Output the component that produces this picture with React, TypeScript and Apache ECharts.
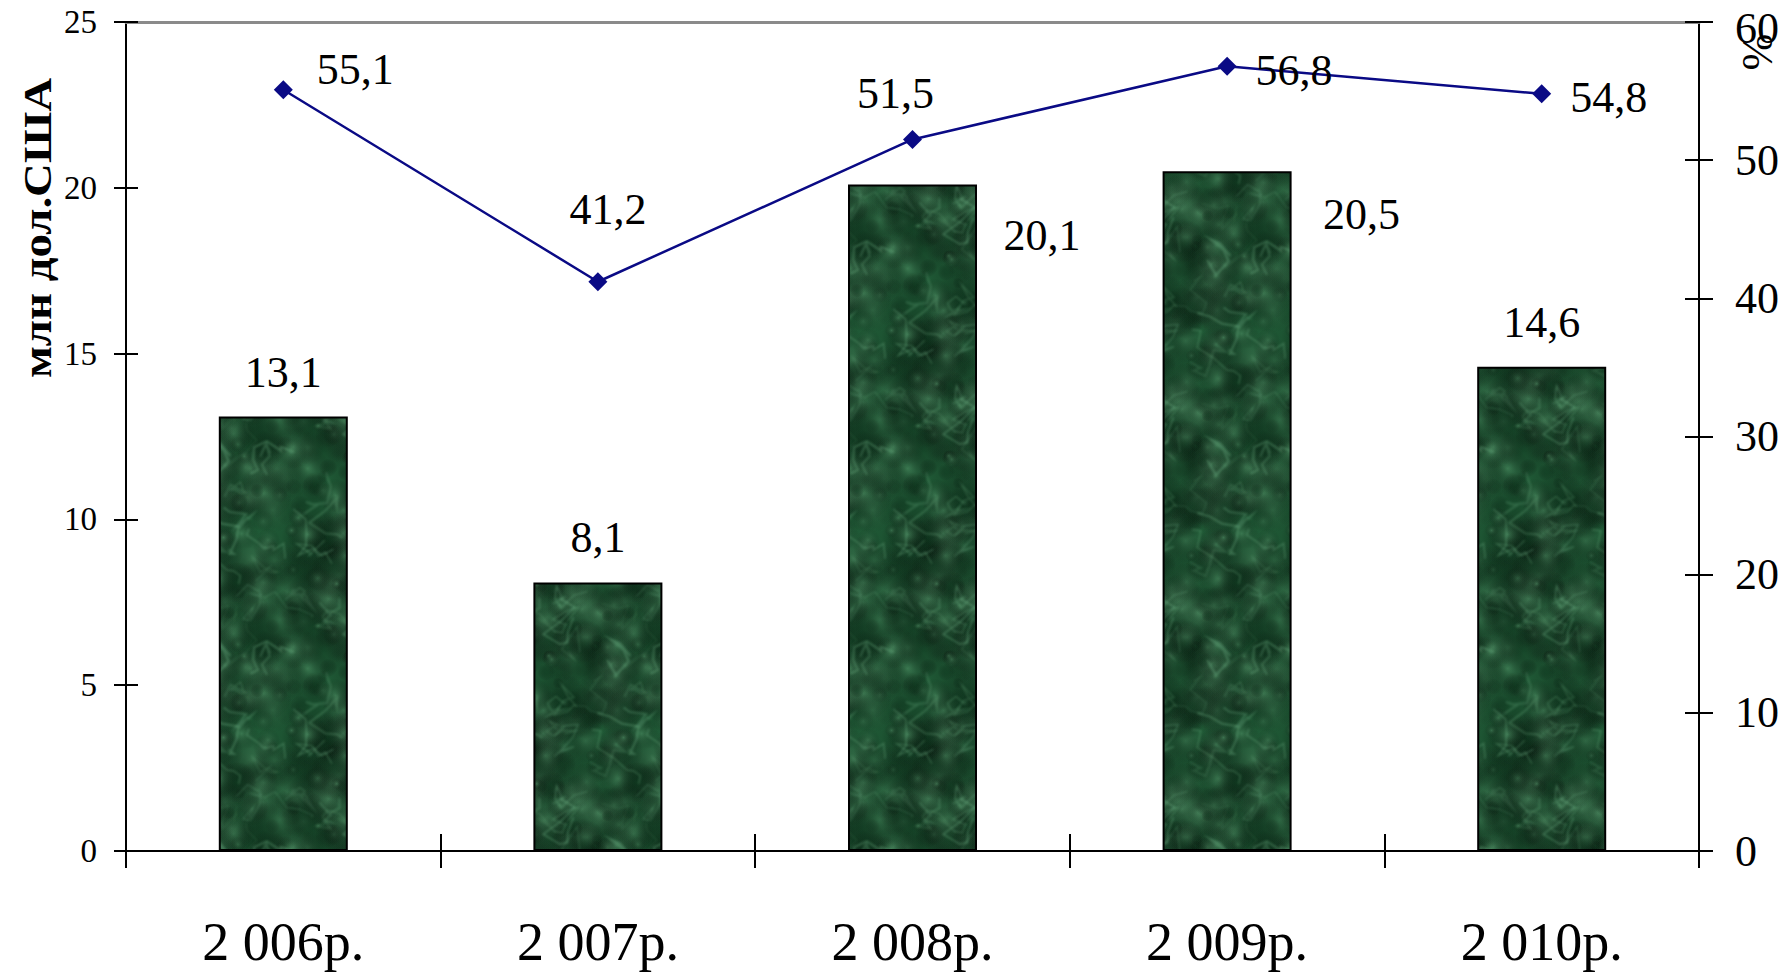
import React, { useEffect, useRef } from "react";
import * as echarts from "echarts";

// ---- data ----
const categories = ["2 006р.", "2 007р.", "2 008р.", "2 009р.", "2 010р."];
const investments = [13.1, 8.1, 20.1, 20.5, 14.6]; // млн дол.США (bars, left axis)
const shares = [55.1, 41.2, 51.5, 56.8, 54.8]; // % (line, right axis)
const leftAxisTicks = [0, 5, 10, 15, 20, 25];
const rightAxisTicks = [0, 10, 20, 30, 40, 50, 60];
const leftTitle = "млн дол.США";
const rightTitle = "%";

// ---- label placement (style only) ----
const barLabelPos: (string | number)[][] = [
  ["50%", -44],
  ["50%", -45],
  [194, 51],
  [199, 43],
  ["50%", -44],
];
const lineLabelOffset: number[][] = [
  [72, -20],
  [10, -72],
  [-17, -46],
  [67, 4],
  [67, 4],
];

const SERIF = "'Liberation Serif', 'Times New Roman', serif";
const fmt = (v: number) => v.toFixed(1).replace(".", ",");

function makeMarble(size: number): string {
  const c = document.createElement("canvas");
  c.width = size;
  c.height = size;
  const g = c.getContext("2d");
  if (!g) return "";
  g.fillStyle = "#22603a";
  g.fillRect(0, 0, size, size);
  let s = 987654321;
  const rnd = () => {
    s = (s * 1103515245 + 12345) & 0x7fffffff;
    return s / 0x7fffffff;
  };
  const wraps = [-size, 0, size];
  // soft blotches, drawn wrapped so the tile is seamless
  for (let i = 0; i < 220; i++) {
    const x = rnd() * size;
    const y = rnd() * size;
    const r = 5 + rnd() * 26;
    const light = rnd() > 0.5;
    const a = 0.25 + rnd() * 0.25;
    for (const dx of wraps) {
      for (const dy of wraps) {
        const cx = x + dx;
        const cy = y + dy;
        const grad = g.createRadialGradient(cx, cy, 0, cx, cy, r);
        grad.addColorStop(0, light ? `rgba(95,165,118,${a})` : `rgba(12,52,28,${a})`);
        grad.addColorStop(1, "rgba(0,0,0,0)");
        g.fillStyle = grad;
        g.beginPath();
        g.arc(cx, cy, r, 0, Math.PI * 2);
        g.fill();
      }
    }
  }
  // faint veins, blurred
  g.filter = "blur(1.2px)";
  for (let i = 0; i < 30; i++) {
    const alpha = 0.12 + rnd() * 0.2;
    const lw = 1 + rnd() * 1.5;
    const pts: number[][] = [];
    let x = rnd() * size;
    let y = rnd() * size;
    pts.push([x, y]);
    for (let k = 0; k < 7; k++) {
      x += (rnd() - 0.5) * 34;
      y += (rnd() - 0.5) * 34;
      pts.push([x, y]);
    }
    for (const dx of wraps) {
      for (const dy of wraps) {
        g.strokeStyle = `rgba(130,205,155,${alpha})`;
        g.lineWidth = lw;
        g.beginPath();
        pts.forEach((p, k) => (k ? g.lineTo(p[0] + dx, p[1] + dy) : g.moveTo(p[0] + dx, p[1] + dy)));
        g.stroke();
      }
    }
  }
  g.filter = "none";
  return c.toDataURL();
}

export default function App() {
  const ref = useRef<HTMLDivElement>(null);

  useEffect(() => {
    if (!ref.current) return;
    const chart = echarts.init(ref.current, undefined, { renderer: "svg" });
    const tile = 200;
    const marble = makeMarble(tile);
    const barFill: any = marble
      ? { image: marble, repeat: "repeat", imageWidth: tile, imageHeight: tile }
      : "#22603a";

    const lMin = leftAxisTicks[0];
    const lMax = leftAxisTicks[leftAxisTicks.length - 1];
    const lInt = leftAxisTicks[1] - leftAxisTicks[0];
    const rMin = rightAxisTicks[0];
    const rMax = rightAxisTicks[rightAxisTicks.length - 1];
    const rInt = rightAxisTicks[1] - rightAxisTicks[0];

    const axisLine = { show: true, onZero: false, lineStyle: { color: "#000", width: 2 } };

    const option: any = {
      animation: false,
      backgroundColor: "#fff",
      grid: { left: 126, right: 84, top: 22, bottom: 126, containLabel: false },
      xAxis: [
        {
          type: "category",
          data: categories,
          position: "bottom",
          axisLine,
          axisTick: { show: true, inside: false, length: 17, lineStyle: { color: "#000", width: 2 } },
          axisLabel: { fontFamily: SERIF, fontSize: 54, color: "#000", margin: 64 },
          splitLine: { show: false },
        },
        {
          type: "category",
          data: categories,
          position: "bottom",
          axisLine: { show: false, onZero: false },
          axisTick: { show: true, inside: true, length: 17, lineStyle: { color: "#000", width: 2 } },
          axisLabel: { show: false },
          splitLine: { show: false },
        },
        {
          type: "category",
          data: categories,
          position: "top",
          axisLine: { show: true, onZero: false, lineStyle: { color: "#8a8a8a", width: 3 } },
          axisTick: { show: false },
          axisLabel: { show: false },
          splitLine: { show: false },
        },
      ],
      yAxis: [
        {
          type: "value",
          position: "left",
          min: lMin,
          max: lMax,
          interval: lInt,
          axisLine,
          axisTick: { show: true, inside: false, length: 12, lineStyle: { color: "#000", width: 2 } },
          axisLabel: { fontFamily: SERIF, fontSize: 33, color: "#000", margin: 29 },
          splitLine: { show: false },
        },
        {
          type: "value",
          position: "right",
          min: rMin,
          max: rMax,
          interval: rInt,
          axisLine,
          axisTick: { show: true, inside: false, length: 14, lineStyle: { color: "#000", width: 2 } },
          axisLabel: {
            fontFamily: SERIF,
            fontSize: 44,
            color: "#000",
            margin: 36,
            formatter: (v: number) => (v === rMax ? `{t|${v}}` : `${v}`),
            rich: { t: { fontFamily: SERIF, fontSize: 44, color: "#000", padding: [12, 0, 0, 0] } },
          },
          splitLine: { show: false },
        },
        {
          type: "value",
          position: "left",
          min: lMin,
          max: lMax,
          interval: lInt,
          axisLine: { show: false, onZero: false },
          axisTick: { show: true, inside: true, length: 12, lineStyle: { color: "#000", width: 2 } },
          axisLabel: { show: false },
          splitLine: { show: false },
        },
        {
          type: "value",
          position: "right",
          min: rMin,
          max: rMax,
          interval: rInt,
          axisLine: { show: false, onZero: false },
          axisTick: { show: true, inside: true, length: 14, lineStyle: { color: "#000", width: 2 } },
          axisLabel: { show: false },
          splitLine: { show: false },
        },
      ],
      series: [
        {
          type: "bar",
          name: leftTitle,
          xAxisIndex: 0,
          yAxisIndex: 0,
          barWidth: 129,
          itemStyle: { color: barFill, borderColor: "#000", borderWidth: 2 },
          data: investments.map((v, i) => ({
            value: v,
            label: {
              show: true,
              position: barLabelPos[i],
              align: "center",
              verticalAlign: "middle",
              formatter: () => fmt(v),
              fontFamily: SERIF,
              fontSize: 44,
              color: "#000",
            },
          })),
          z: 2,
        },
        {
          type: "line",
          name: rightTitle,
          xAxisIndex: 0,
          yAxisIndex: 1,
          symbol: "diamond",
          symbolSize: 19,
          lineStyle: { color: "#0a0a85", width: 2.5 },
          itemStyle: { color: "#0a0a85" },
          data: shares.map((v, i) => ({
            value: v,
            label: {
              show: true,
              position: "inside",
              offset: lineLabelOffset[i],
              align: "center",
              verticalAlign: "middle",
              formatter: () => fmt(v),
              fontFamily: SERIF,
              fontSize: 44,
              color: "#000",
            },
          })),
          z: 5,
        },
      ],
      graphic: [
        {
          type: "text",
          x: 37,
          y: 228,
          rotation: Math.PI / 2,
          scaleX: 1.17,
          style: {
            text: leftTitle,
            align: "center",
            verticalAlign: "middle",
            font: `bold 40px ${SERIF}`,
            fill: "#000",
          },
        },
        {
          type: "text",
          x: 1757,
          y: 52,
          rotation: -Math.PI / 2,
          style: {
            text: rightTitle,
            align: "center",
            verticalAlign: "middle",
            font: `44px ${SERIF}`,
            fill: "#000",
          },
        },
      ],
    };

    chart.setOption(option);
    return () => chart.dispose();
  }, []);

  return (
    <div
      ref={ref}
      style={{ position: "fixed", left: 0, top: 0, width: 1783, height: 977, background: "#fff" }}
    />
  );
}
